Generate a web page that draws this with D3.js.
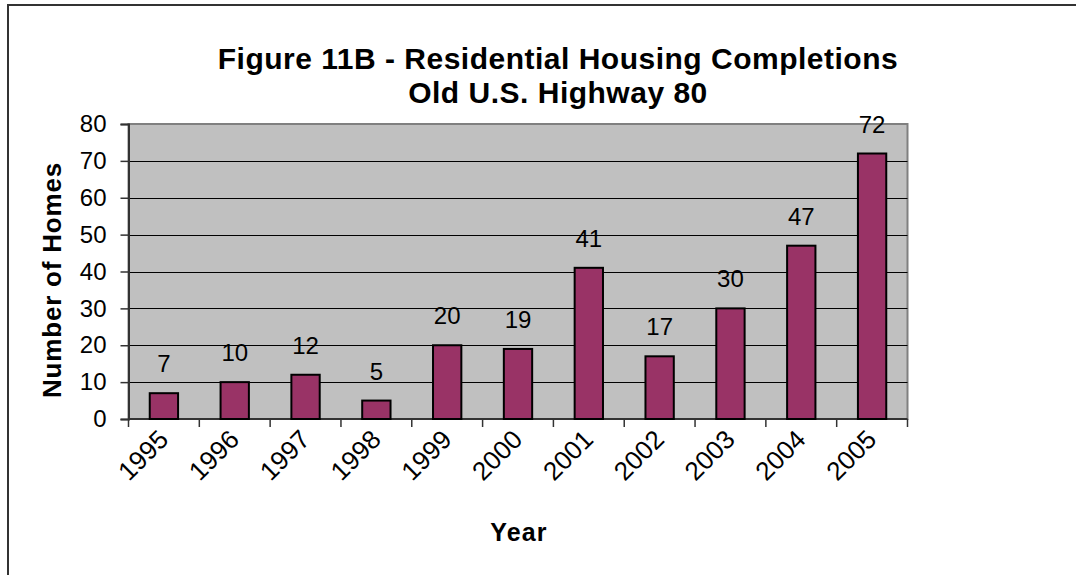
<!DOCTYPE html>
<html>
<head>
<meta charset="utf-8">
<script src="https://cdn.jsdelivr.net/npm/d3@7"></script>
<style>
  html, body { margin: 0; padding: 0; background: #fff; }
  svg { display: block; font-family: "Liberation Sans", Arial, sans-serif; }
</style>
</head>
<body>
<svg id="chart" width="1076" height="575"></svg>
<script>
// Housing completions per year
const years = ["1995", "1996", "1997", "1998", "1999", "2000", "2001", "2002", "2003", "2004", "2005"];
const homes = [7, 10, 12, 5, 20, 19, 41, 17, 30, 47, 72];
const yTicks = [0, 10, 20, 30, 40, 50, 60, 70, 80];
const titleLines = ["Figure 11B - Residential Housing Completions", "Old U.S. Highway 80"];

const svg = d3.select("#chart");
const plot = { left: 128.5, right: 907.5, top: 124, bottom: 419 };

// Outer chart frame (only top and left edges fall inside the view)
svg.append("path")
  .attr("d", `M8,575 V5 H1076`)
  .attr("fill", "none")
  .attr("stroke", "#333")
  .attr("stroke-width", 2);

const x = d3.scaleBand()
  .domain(years)
  .range([plot.left, plot.right])
  .paddingInner(0.6)
  .paddingOuter(0.3);

const y = d3.scaleLinear()
  .domain([0, 80])
  .range([plot.bottom, plot.top]);

// Plot background
svg.append("rect")
  .attr("x", plot.left).attr("y", plot.top)
  .attr("width", plot.right - plot.left)
  .attr("height", plot.bottom - plot.top)
  .attr("fill", "#c0c0c0")
  .attr("stroke", "#808080")
  .attr("stroke-width", 2);

// Horizontal gridlines
svg.append("g")
  .selectAll("line")
  .data(yTicks.filter(d => d > 0 && d < 80))
  .join("line")
  .attr("x1", plot.left).attr("x2", plot.right)
  .attr("y1", d => Math.round(y(d)) + 0.5).attr("y2", d => Math.round(y(d)) + 0.5)
  .attr("stroke", "#000")
  .attr("stroke-width", 1);

// Y axis
const yAxis = svg.append("g")
  .attr("transform", `translate(${plot.left},0)`)
  .call(d3.axisLeft(y).tickValues(yTicks).tickSize(8).tickPadding(14));
yAxis.select(".domain").attr("stroke", "#333").attr("stroke-width", 2);
yAxis.selectAll(".tick line").attr("stroke", "#333").attr("stroke-width", 1.5);
yAxis.selectAll(".tick text")
  .attr("font-size", 24)
  .attr("font-family", "'Liberation Sans', Arial, sans-serif")
  .attr("fill", "#000");

// X axis: ticks at category boundaries
const step = x.step();
const boundaries = d3.range(years.length + 1).map(i => plot.left + i * step);
const xg = svg.append("g");
xg.append("line")
  .attr("x1", plot.left).attr("x2", plot.right)
  .attr("y1", plot.bottom).attr("y2", plot.bottom)
  .attr("stroke", "#333").attr("stroke-width", 2);
xg.selectAll("line.tick")
  .data(boundaries)
  .join("line")
  .attr("class", "tick")
  .attr("x1", d => d).attr("x2", d => d)
  .attr("y1", plot.bottom).attr("y2", plot.bottom + 8)
  .attr("stroke", "#333").attr("stroke-width", 1.5);
xg.selectAll("text")
  .data(years)
  .join("text")
  .attr("transform", d => `translate(${x(d) + x.bandwidth() / 2 + 6},${plot.bottom + 22}) rotate(-45)`)
  .attr("text-anchor", "end")
  .attr("font-size", 26)
  .attr("fill", "#000")
  .text(d => d);

// Bars
const data = years.map((yr, i) => ({ year: yr, value: homes[i] }));
svg.append("g")
  .selectAll("rect")
  .data(data)
  .join("rect")
  .attr("x", d => x(d.year))
  .attr("y", d => y(d.value))
  .attr("width", x.bandwidth())
  .attr("height", d => y(0) - y(d.value))
  .attr("fill", "#993366")
  .attr("stroke", "#000")
  .attr("stroke-width", 2);

// Value labels
svg.append("g")
  .selectAll("text")
  .data(data)
  .join("text")
  .attr("x", d => x(d.year) + x.bandwidth() / 2)
  .attr("y", d => y(d.value) - 21)
  .attr("text-anchor", "middle")
  .attr("font-size", 24)
  .attr("fill", "#000")
  .text(d => d.value);

// Title
svg.append("g")
  .selectAll("text")
  .data(titleLines)
  .join("text")
  .attr("x", 558)
  .attr("y", (d, i) => 69 + i * 34)
  .attr("text-anchor", "middle")
  .attr("font-size", 30)
  .attr("font-weight", "bold")
  .attr("letter-spacing", 0.5)
  .attr("fill", "#000")
  .text(d => d);

// Axis titles
svg.append("text")
  .attr("transform", `translate(61,280) rotate(-90)`)
  .attr("text-anchor", "middle")
  .attr("font-size", 26)
  .attr("font-weight", "bold")
  .attr("letter-spacing", 0.8)
  .attr("fill", "#000")
  .text("Number of Homes");

svg.append("text")
  .attr("x", 519)
  .attr("y", 541)
  .attr("text-anchor", "middle")
  .attr("font-size", 25)
  .attr("font-weight", "bold")
  .attr("letter-spacing", 1.2)
  .attr("fill", "#000")
  .text("Year");
</script>
</body>
</html>
